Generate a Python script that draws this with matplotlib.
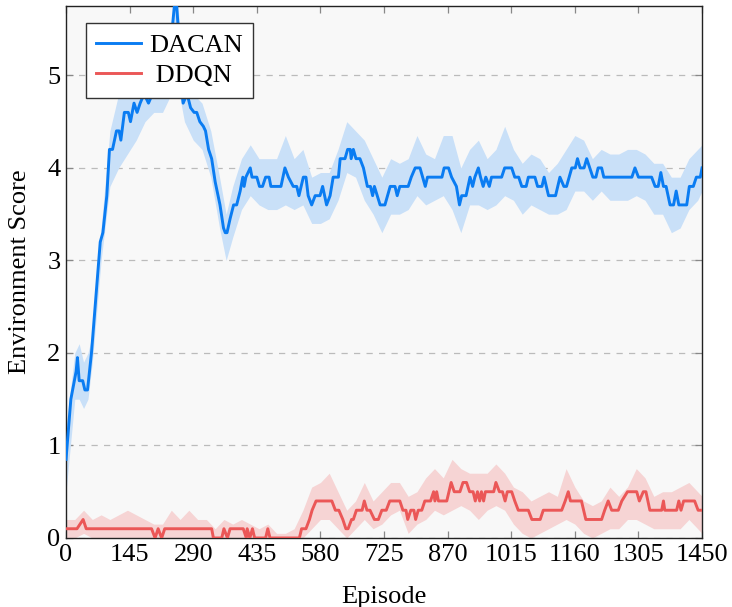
import numpy as np
from matplotlib import pyplot as plt

plt.rcParams['font.family'] = ['Liberation Serif', 'DejaVu Serif']
plt.rcParams['mathtext.fontset'] = 'stix'

# DACAN mean curve (episode, score)
dacan_ep = [0, 11, 23, 26, 30, 38, 43, 49, 58, 68, 78, 84, 93, 99, 106, 115, 121, 125,
            133, 142, 147, 155, 162, 169, 178, 188, 197, 210, 222, 232, 240, 250, 256,
            262, 267, 276, 284, 292, 298, 305, 313, 318, 325, 332, 340, 351, 359, 363,
            367, 374, 382, 389, 397, 403, 406, 410, 420, 424, 435, 441, 448, 455, 463,
            467, 490, 499, 507, 518, 526, 531, 541, 547, 552, 560, 568, 579, 585, 594,
            602, 609, 621, 625, 636, 642, 648, 650, 655, 661, 670, 678, 687, 694, 699,
            703, 716, 727, 739, 750, 755, 761, 780, 787, 796, 807, 813, 819, 824, 857,
            862, 872, 879, 890, 897, 902, 912, 921, 927, 932, 940, 945, 951, 957, 965,
            970, 993, 1000, 1016, 1023, 1032, 1039, 1049, 1054, 1069, 1075, 1085, 1090,
            1100, 1116, 1126, 1135, 1141, 1147, 1153, 1161, 1166, 1172, 1181, 1187, 1201,
            1208, 1213, 1221, 1226, 1290, 1297, 1305, 1335, 1343, 1350, 1356, 1362, 1368,
            1377, 1385, 1391, 1397, 1415, 1421, 1430, 1437, 1446, 1450]
dacan_val = [0.85, 1.5, 1.8, 1.95, 1.7, 1.7, 1.6, 1.6, 2.0, 2.6, 3.2, 3.3, 3.7, 4.2, 4.2, 4.4, 4.4, 4.3,
             4.6, 4.6, 4.5, 4.7, 4.6, 4.7, 4.8, 4.7, 4.8, 4.9, 4.9, 5.0, 5.4, 5.9, 5.5,
             4.9, 4.7, 4.8, 4.65, 4.6, 4.6, 4.5, 4.45, 4.4, 4.2, 4.1, 3.85, 3.6, 3.35, 3.3,
             3.3, 3.45, 3.6, 3.6, 3.75, 3.9, 3.8, 3.9, 4.0, 3.9, 3.9, 3.8, 3.8, 3.9, 3.9,
             3.8, 3.8, 4.0, 3.9, 3.8, 3.8, 3.7, 3.9, 3.9, 3.7, 3.6, 3.7, 3.7, 3.8, 3.6,
             3.7, 3.9, 3.9, 4.1, 4.1, 4.2, 4.2, 4.1, 4.2, 4.1, 4.1, 4.0, 3.8, 3.8, 3.7,
             3.8, 3.6, 3.6, 3.8, 3.8, 3.7, 3.8, 3.8, 3.9, 4.0, 4.0, 3.9, 3.8, 3.9, 3.9,
             4.0, 4.0, 3.9, 3.8, 3.6, 3.7, 3.7, 3.9, 3.8, 3.9, 4.0, 3.9, 3.8, 3.9, 3.8,
             3.9, 3.9, 4.0, 4.0, 3.9, 3.9, 3.8, 3.8, 3.9, 3.9, 3.8, 3.8, 3.9,
             3.7, 3.7, 3.9, 3.8, 3.8, 3.9, 4.0, 4.0, 4.1, 4.0, 4.0, 4.1, 3.9,
             3.9, 4.0, 4.0, 3.9, 3.9, 4.0, 3.9, 3.9, 3.8, 3.8, 3.95, 3.8, 3.8,
             3.6, 3.6, 3.75, 3.6, 3.6, 3.8, 3.8, 3.9, 3.9, 4.0]

# DACAN spread band (episode, lower, upper)
dacan_band_ep = [0, 20, 30, 40, 50, 60, 80, 100, 120, 140, 160, 180, 200, 220, 240, 250,
                 270, 290, 310, 330, 350, 365, 380, 400, 420, 440, 460, 480, 500, 520,
                 540, 560, 580, 600, 620, 640, 660, 680, 700, 720, 740, 760, 780, 800,
                 820, 840, 860, 880, 900, 920, 940, 960, 980, 1000, 1020, 1040, 1060,
                 1080, 1100, 1120, 1140, 1160, 1180, 1200, 1220, 1240, 1260, 1280, 1300,
                 1320, 1340, 1360, 1380, 1400, 1420, 1440, 1450]
dacan_lo = [0.5, 1.5, 1.5, 1.4, 1.5, 1.9, 3.0, 3.8, 4.0, 4.15, 4.3, 4.5, 4.6, 4.6, 4.8, 5.0,
            4.5, 4.3, 4.2, 3.9, 3.35, 3.0, 3.25, 3.55, 3.7, 3.6, 3.55, 3.55, 3.6, 3.55,
            3.6, 3.4, 3.4, 3.45, 3.65, 3.95, 3.9, 3.65, 3.5, 3.3, 3.5, 3.5, 3.55, 3.7,
            3.6, 3.65, 3.7, 3.55, 3.3, 3.6, 3.6, 3.55, 3.6, 3.7, 3.65, 3.5, 3.6,
            3.55, 3.5, 3.5, 3.55, 3.75, 3.75, 3.65, 3.75, 3.65, 3.65, 3.65, 3.7,
            3.65, 3.5, 3.5, 3.3, 3.35, 3.55, 3.65, 3.75]
dacan_hi = [1.2, 2.0, 2.1, 1.9, 2.0, 2.2, 3.35, 4.4, 4.8, 4.95, 5.0, 5.0, 5.2, 5.2, 5.5, 6.0,
            5.0, 4.8, 4.7, 4.4, 3.9, 3.5, 3.8, 4.1, 4.25, 4.1, 4.1, 4.1, 4.35, 4.1,
            4.2, 3.9, 3.95, 3.95, 4.2, 4.5, 4.4, 4.3, 4.1, 3.9, 4.1, 4.05, 4.1, 4.35,
            4.15, 4.1, 4.35, 4.35, 4.0, 4.2, 4.3, 4.1, 4.2, 4.45, 4.2, 4.05, 4.15,
            4.1, 3.95, 4.05, 4.2, 4.35, 4.3, 4.1, 4.2, 4.15, 4.15, 4.2, 4.2,
            4.15, 4.05, 4.05, 3.9, 3.9, 4.1, 4.2, 4.25]

# DDQN mean curve
ddqn_ep = [0, 25, 39, 46, 195, 203, 210, 218, 225, 332, 336, 355, 360, 368, 374, 404,
           411, 413, 419, 425, 430, 436, 455, 460, 465, 532, 537, 547, 555, 561, 570,
           606, 614, 622, 631, 638, 643, 651, 655, 662, 675, 680, 686, 693, 703, 712,
           720, 730, 738, 761, 768, 775, 779, 786, 793, 797, 803, 811, 818, 831, 838,
           841, 845, 849, 868, 878, 885, 898, 905, 913, 920, 928, 933, 938, 943, 947,
           952, 956, 961, 975, 980, 988, 995, 1001, 1006, 1016, 1023, 1031, 1054,
           1062, 1081, 1088, 1130, 1138, 1145, 1150, 1175, 1185, 1221, 1228, 1236,
           1244, 1259, 1267, 1280, 1301, 1307, 1316, 1322, 1331, 1358, 1362, 1365,
           1392, 1397, 1402, 1408, 1433, 1441, 1450]
ddqn_val = [0.1, 0.1, 0.2, 0.1, 0.1, 0.0, 0.1, 0.0, 0.1, 0.1, 0.0, 0.0, 0.1, 0.0, 0.1, 0.1,
            0.0, 0.1, 0.0, 0.1, 0.0, 0.0, 0.0, 0.1, 0.0, 0.0, 0.1, 0.1, 0.2, 0.3, 0.4,
            0.4, 0.3, 0.3, 0.2, 0.1, 0.1, 0.2, 0.2, 0.3, 0.3, 0.4, 0.3, 0.3, 0.2, 0.2,
            0.3, 0.3, 0.4, 0.4, 0.3, 0.3, 0.2, 0.3, 0.3, 0.2, 0.3, 0.3, 0.4, 0.4, 0.5,
            0.4, 0.5, 0.4, 0.4, 0.6, 0.5, 0.5, 0.6, 0.6, 0.5, 0.5, 0.4, 0.5, 0.4, 0.5,
            0.4, 0.5, 0.5, 0.5, 0.6, 0.5, 0.5, 0.4, 0.5, 0.5, 0.4, 0.3, 0.3,
            0.2, 0.2, 0.3, 0.3, 0.4, 0.5, 0.4, 0.4, 0.2, 0.2, 0.3, 0.4,
            0.3, 0.3, 0.4, 0.5, 0.5, 0.4, 0.5, 0.5, 0.3, 0.3, 0.4, 0.3,
            0.3, 0.4, 0.3, 0.4, 0.4, 0.3, 0.3]

# DDQN spread band
ddqn_band_ep = list(range(0, 1450, 20)) + [1450]
ddqn_lo = [0.0, 0.0, 0.05, 0.0, 0.0, 0.0, 0.0, 0.0, 0.0, 0.0, 0.0, 0.0, 0.0, 0.0, 0.0,
           0.0, 0.0, 0.0, 0.0, 0.0, 0.0, 0.0, 0.0, 0.0, 0.0, 0.0, 0.0, 0.0, 0.1, 0.2,
           0.2, 0.1, 0.0, 0.1, 0.2, 0.1, 0.15, 0.25, 0.3, 0.05, 0.15, 0.2, 0.3, 0.25,
           0.3, 0.35, 0.3, 0.2, 0.3, 0.35, 0.3, 0.15, 0.05, 0.0, 0.05, 0.1, 0.15, 0.2,
           0.15, 0.05, 0.0, 0.05, 0.1, 0.1, 0.2, 0.2, 0.15, 0.1, 0.1, 0.1, 0.1, 0.2,
           0.1, 0.05]
ddqn_hi = [0.2, 0.2, 0.3, 0.2, 0.25, 0.2, 0.25, 0.3, 0.25, 0.2, 0.15, 0.15, 0.3, 0.2, 0.3,
           0.2, 0.2, 0.1, 0.2, 0.15, 0.2, 0.15, 0.1, 0.15, 0.05, 0.05, 0.1, 0.3, 0.55, 0.6,
           0.7, 0.5, 0.3, 0.4, 0.6, 0.4, 0.5, 0.6, 0.6, 0.45, 0.5, 0.65, 0.75, 0.65,
           0.85, 0.75, 0.7, 0.7, 0.7, 0.8, 0.7, 0.55, 0.5, 0.4, 0.45, 0.5, 0.45, 0.75,
           0.55, 0.4, 0.35, 0.4, 0.55, 0.45, 0.55, 0.75, 0.65, 0.45, 0.5, 0.5, 0.55, 0.6,
           0.5, 0.45]

x_ticks = [0, 145, 290, 435, 580, 725, 870, 1015, 1160, 1305, 1450]
y_ticks = [0, 1, 2, 3, 4, 5]

blue = '#0a7cf2'
red = '#eb5757'
fs = 19

fig = plt.figure(figsize=(7.32, 6.07), dpi=100)
ax = fig.add_axes([0.0902, 0.1137, 0.8689, 0.8764])
ax.set_facecolor('#f8f8f8')

ax.fill_between(dacan_band_ep, dacan_lo, dacan_hi, color='#c9e0f8', lw=0, zorder=1)
ax.fill_between(ddqn_band_ep, ddqn_lo, ddqn_hi, color='#f6d4d4', lw=0, zorder=1)
ax.plot(dacan_ep, dacan_val, color=blue, lw=2.1, label='DACAN', zorder=3)
ax.plot(ddqn_ep, ddqn_val, color=red, lw=2.1, label=' DDQN', zorder=3)

ax.set_xlim(0, 1450)
ax.set_ylim(0, 5.75)
ax.set_xticks(x_ticks)
ax.set_yticks(y_ticks)
ax.yaxis.grid(True, linestyle=(0, (5, 5)), color='#bbbbbb', lw=0.9, zorder=0)
ax.set_axisbelow(True)
ax.tick_params(direction='in', length=5, width=0.9, color='#888888',
               top=True, right=True, labelsize=fs, pad=4)
for s in ax.spines.values():
    s.set_linewidth(1.0)
    s.set_color('#222222')

ax.set_xlabel('Episode', fontsize=fs, labelpad=15)
ax.set_ylabel('Environment Score', fontsize=fs, labelpad=12)

leg = ax.legend(loc='upper left', bbox_to_anchor=(0.031, 0.968), borderaxespad=0,
                fontsize=fs, fancybox=False, framealpha=1, edgecolor='#333333',
                handlelength=1.7, handletextpad=0.3, labelspacing=0.25,
                borderpad=0.4)
leg.get_frame().set_linewidth(1.0)

fig.savefig('out.png', dpi=100)
